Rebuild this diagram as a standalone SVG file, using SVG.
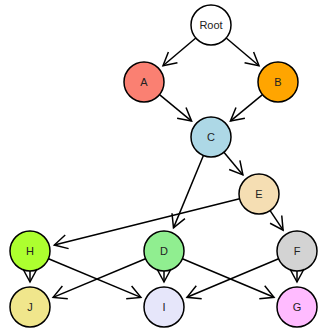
<svg xmlns="http://www.w3.org/2000/svg" width="320" height="331" viewBox="0 0 320 331">
<style>
.n circle{stroke:#000;stroke-width:1.5}
.n text{font-family:"Liberation Sans",Arial,sans-serif;font-size:11px;text-anchor:middle;dominant-baseline:central;fill:#222}
#edges line{stroke:#000;stroke-width:1.5;marker-end:url(#ah)}
</style>
<defs>
<marker id="ah" markerUnits="userSpaceOnUse" markerWidth="18" markerHeight="18" viewBox="-15 -9 18 18" refX="0" refY="0" orient="auto" overflow="visible">
<path d="M-13,-7 L0,0 L-13,7" fill="none" stroke="#000" stroke-width="1.5"/>
</marker>
</defs>
<rect width="320" height="331" fill="#fff"/>
<g id="Root" class="n"><circle cx="211" cy="25" r="20" fill="#ffffff"/><text x="211" y="25">Root</text></g>
<g id="A" class="n"><circle cx="144" cy="82" r="20" fill="#fa8072"/><text x="144" y="82">A</text></g>
<g id="B" class="n"><circle cx="278" cy="82" r="20" fill="#ffa500"/><text x="278" y="82">B</text></g>
<g id="C" class="n"><circle cx="211" cy="137" r="20" fill="#add8e6"/><text x="211" y="137">C</text></g>
<g id="E" class="n"><circle cx="259" cy="194" r="20" fill="#f5deb3"/><text x="259" y="194">E</text></g>
<g id="H" class="n"><circle cx="30" cy="251" r="20" fill="#adff2f"/><text x="30" y="251">H</text></g>
<g id="D" class="n"><circle cx="164" cy="251" r="20" fill="#90ee90"/><text x="164" y="251">D</text></g>
<g id="F" class="n"><circle cx="297" cy="251" r="20" fill="#d3d3d3"/><text x="297" y="251">F</text></g>
<g id="J" class="n"><circle cx="30" cy="307" r="20" fill="#f0e68c"/><text x="30" y="307">J</text></g>
<g id="I" class="n"><circle cx="164" cy="307" r="20" fill="#e6e6fa"/><text x="164" y="307">I</text></g>
<g id="G" class="n"><circle cx="297" cy="307" r="20" fill="#ffbbff"/><text x="297" y="307">G</text></g>
<g id="edges">
<line x1="195.8" y1="38" x2="163" y2="65.8"/>
<line x1="226.2" y1="38" x2="259" y2="65.8"/>
<line x1="159.5" y1="94.7" x2="191.6" y2="121.1"/>
<line x1="262.5" y1="94.7" x2="230.4" y2="121.1"/>
<line x1="203.4" y1="155.5" x2="173.5" y2="227.9"/>
<line x1="223.9" y1="152.3" x2="242.9" y2="174.9"/>
<line x1="239.6" y1="198.8" x2="54.3" y2="245"/>
<line x1="270.1" y1="210.6" x2="283.1" y2="230.2"/>
<line x1="30" y1="271" x2="30" y2="282"/>
<line x1="48.5" y1="258.7" x2="140.9" y2="297.4"/>
<line x1="145.5" y1="258.7" x2="53.1" y2="297.4"/>
<line x1="164" y1="271" x2="164" y2="282"/>
<line x1="182.4" y1="258.8" x2="274" y2="297.3"/>
<line x1="278.6" y1="258.8" x2="187" y2="297.3"/>
<line x1="297" y1="271" x2="297" y2="282"/>
</g>
</svg>
